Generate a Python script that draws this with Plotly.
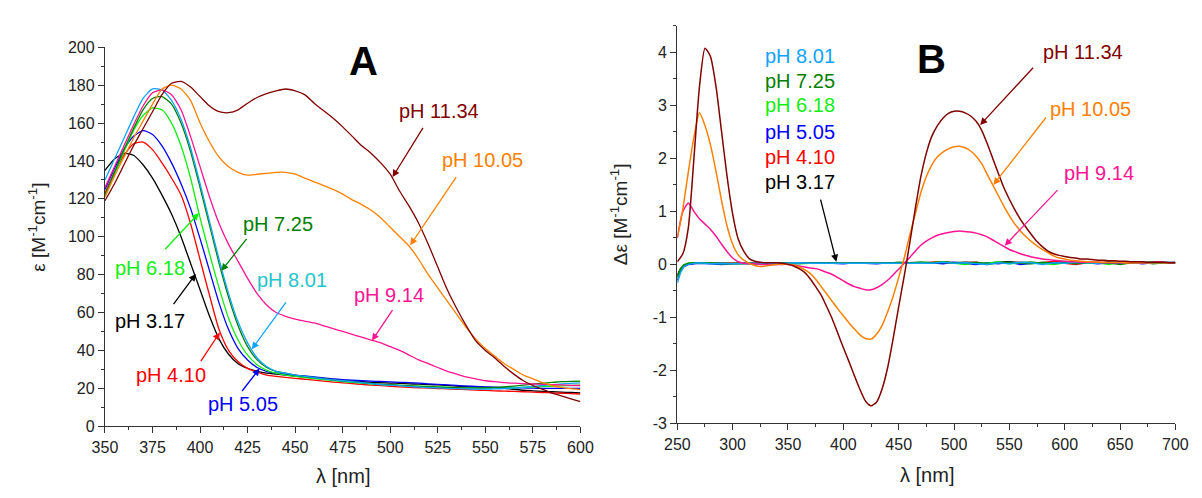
import plotly.graph_objects as go

# ---------------- Panel A : absorption spectra ----------------
LAM_A = list(range(350, 601, 5))

EPS_317 = [135, 141, 144, 143, 138, 131, 122, 112, 100, 86,
           72, 58, 46, 38, 33, 30.5, 29, 28, 27.5, 27,
           26.5, 26, 25.5, 25, 24.5, 24, 23.8, 23.5, 23.2, 23,
           22.8, 22.6, 22.4, 22.2, 22, 21.8, 21.5, 21.2, 21, 20.8,
           20.5, 20.3, 20, 19.5, 19, 18.7, 18.4, 18.2, 18, 17.8,
           17.6]
EPS_410 = [123, 134, 143, 149, 150, 146, 139, 131, 122, 107,
           88, 69, 51, 40, 34, 30.5, 28.5, 27, 26.3, 25.8,
           25.3, 24.8, 24.3, 23.8, 23.3, 22.9, 22.5, 22.1, 21.7, 21.4,
           21.1, 20.8, 20.5, 20.3, 20.1, 19.9, 19.7, 19.5, 19.3, 19.1,
           18.9, 18.7, 18.5, 18.4, 18.2, 18, 17.8, 17.6, 17.4, 17.2,
           17]
EPS_505 = [125, 136, 146, 153, 156, 154, 148, 139, 128, 115,
           99, 82, 65, 51, 41, 35, 31, 29, 28, 27.5,
           27, 26.5, 26, 25.5, 25, 24.6, 24.3, 24, 23.8, 23.6,
           23.4, 23.2, 23, 22.7, 22.4, 22.1, 21.8, 21.5, 21.2, 21,
           20.8, 20.6, 20.4, 20.3, 20.2, 20.1, 20, 20, 20, 20,
           20]
EPS_618 = [121, 133, 145, 156, 164, 168, 167, 160, 148, 131,
           110, 91, 73, 57, 45.5, 37.5, 32.5, 29.5, 28, 27,
           26.3, 25.7, 25.1, 24.6, 24.1, 23.6, 23.1, 22.7, 22.3, 22,
           21.8, 21.6, 21.4, 21.2, 21, 20.8, 20.6, 20.4, 20.2, 20.1,
           20, 20, 20.1, 20.3, 20.5, 20.7, 20.9, 21.1, 21.3, 21.5,
           21.7]
EPS_725 = [122, 134, 146, 157, 167, 173, 174, 170, 160, 145,
           126, 106, 86, 68, 53, 42, 35, 31, 29, 28,
           27, 26.3, 25.7, 25.1, 24.5, 24, 23.5, 23, 22.6, 22.2,
           21.9, 21.6, 21.3, 21, 20.8, 20.6, 20.4, 20.3, 20.2, 20.2,
           20.3, 20.5, 20.8, 21.2, 21.7, 22.2, 22.7, 23.1, 23.5, 23.7,
           23.8]
EPS_801 = [130, 141, 152, 163, 173, 178, 177.5, 172, 162, 147,
           128, 108, 88, 70, 55, 44, 36, 31.5, 29, 28,
           27, 26.3, 25.7, 25, 24.5, 24, 23.5, 23, 22.5, 22,
           21.7, 21.4, 21, 20.7, 20.4, 20.2, 20, 19.8, 19.7, 19.6,
           19.6, 19.7, 19.9, 20.2, 20.6, 21, 21.5, 22, 22.3, 22.6,
           22.9]
EPS_914 = [126, 137, 148, 159, 169, 176, 177.5, 175, 167, 153,
           137, 121, 107, 96, 87, 78, 70, 64, 60, 58,
           56.5, 55.5, 54.5, 53, 51.5, 50, 48.5, 47, 45.5, 44,
           42, 40, 37.5, 35, 33, 31, 29, 27.5, 26, 25,
           24, 23.5, 23, 22.7, 22.5, 22.3, 22.1, 22, 21.8, 21.6,
           21.5]
EPS_1005 = [121, 132, 142, 152, 161, 170, 178, 180, 178, 172,
            160, 150, 142, 137, 134, 132.5, 133, 133.5, 134, 134,
            133, 131, 129, 127, 125, 122.5, 119.5, 117, 114, 110,
            105, 100, 95, 88, 80, 73, 66, 59, 52, 46,
            41, 37, 33, 30, 27, 25, 23, 21.5, 20.5, 19.8,
            19.3]
EPS_1134 = [119, 128, 138, 148, 157, 166, 175, 181, 182, 179,
            174, 169, 166, 165.5, 167, 170.5, 173.5, 175.5, 177, 178,
            177, 175, 170.5, 166.5, 162.5, 158, 153, 148, 144, 139,
            133, 124, 116, 107, 96, 84, 72, 62, 53, 45,
            40, 36, 31.5, 27.5, 24, 21.5, 19.5, 17.5, 16, 14.5,
            13]

# ---------------- Panel B : CD difference spectra ----------------
LAM_B = list(range(250, 701, 5))
DEPS_914 = [0.5, 1.0, 1.16, 1.0, 0.86, 0.76, 0.66, 0.53, 0.38, 0.24,
            0.12, 0.05, 0.02, 0.01, 0.01, 0.0, 0.0, 0.0, 0.0, 0.0,
            0.0, -0.01, -0.03, -0.05, -0.07, -0.08, -0.11, -0.15, -0.19, -0.25,
            -0.31, -0.37, -0.42, -0.45, -0.48, -0.48, -0.44, -0.38, -0.3, -0.2,
            -0.09, 0.02, 0.13, 0.25, 0.36, 0.44, 0.5, 0.55, 0.58, 0.6,
            0.62, 0.63, 0.62, 0.61, 0.59, 0.56, 0.52, 0.46, 0.4, 0.34,
            0.28, 0.24, 0.2, 0.17, 0.14, 0.12, 0.1, 0.09, 0.08, 0.07,
            0.06, 0.05, 0.05, 0.04, 0.04, 0.04, 0.04, 0.03, 0.03, 0.03,
            0.03, 0.03, 0.03, 0.03, 0.03, 0.03, 0.04, 0.05, 0.03, 0.03,
            0.03]
DEPS_1005 = [0.5, 1.05, 1.75, 2.4, 2.86, 2.62, 2.25, 1.75, 1.2, 0.72,
             0.38, 0.18, 0.08, 0.02, -0.02, -0.04, -0.03, -0.01, 0.0, 0.0,
             0.0, -0.01, -0.05, -0.1, -0.17, -0.28, -0.42, -0.56, -0.7, -0.84,
             -0.97, -1.1, -1.22, -1.33, -1.4, -1.41, -1.32, -1.15, -0.9, -0.6,
             -0.25, 0.12, 0.55, 0.95, 1.35, 1.66, 1.88, 2.03, 2.12, 2.18,
             2.22, 2.23, 2.2, 2.14, 2.04, 1.9, 1.7, 1.5, 1.3, 1.1,
             0.92, 0.76, 0.63, 0.52, 0.43, 0.35, 0.28, 0.22, 0.16, 0.12,
             0.1, 0.08, 0.07, 0.06, 0.05, 0.05, 0.04, 0.04, 0.04, 0.04,
             0.04, 0.03, 0.03, 0.03, 0.03, 0.03, 0.03, 0.03, 0.03, 0.03,
             0.03]
DEPS_1134 = [0.05, 0.2, 0.7, 2.0, 3.35, 4.08, 3.92, 3.35, 2.5, 1.65,
             0.95, 0.48, 0.25, 0.11, 0.06, 0.04, 0.03, 0.03, 0.03, 0.02,
             0.0, -0.03, -0.08, -0.15, -0.27, -0.42, -0.58, -0.8, -1.03, -1.3,
             -1.57, -1.83, -2.1, -2.36, -2.58, -2.67, -2.6, -2.35, -1.95, -1.4,
             -0.8, -0.22, 0.4, 1.05, 1.65, 2.1, 2.42, 2.62, 2.76, 2.85,
             2.89, 2.89, 2.86, 2.8, 2.7, 2.53, 2.28, 2.0, 1.72, 1.45,
             1.23, 1.03, 0.85, 0.7, 0.56, 0.43, 0.33, 0.25, 0.2, 0.17,
             0.15, 0.13, 0.12, 0.1, 0.1, 0.09, 0.08, 0.08, 0.07, 0.07,
             0.06, 0.06, 0.05, 0.05, 0.05, 0.04, 0.04, 0.04, 0.04, 0.03,
             0.03]

LAM_B_LOW = [250, 253, 256, 260, 265] + list(range(270, 701, 10))
DEPS_317 = [-0.2, -0.08, -0.02, 0.01, 0.02, 0.03, 0.02, 0.02, 0.03, 0.02, 0.02, 0.03, 0.02, 0.02,
            0.03, 0.03, 0.02, 0.03, 0.03, 0.02, 0.03, 0.03, 0.02, 0.03, 0.03, 0.04, 0.03, 0.05,
            0.03, 0.04, 0.03, 0.02, 0.04, 0.05, 0.03, 0.04, 0.02, 0.03, 0.05, 0.03, 0.04,
            0.02, 0.05, 0.03, 0.04, 0.02, 0.05, 0.03, 0.04]
DEPS_410 = [-0.22, -0.1, -0.03, 0.0, 0.02, 0.02, 0.01, 0.02, 0.02, 0.01, 0.02, 0.02, 0.03, 0.02,
            0.02, 0.03, 0.02, 0.02, 0.03, 0.02, 0.02, 0.03, 0.02, 0.02, 0.03, 0.02, 0.04, 0.05,
            0.02, 0.03, 0.04, 0.01, 0.03, 0.02, 0.04, 0.02, 0.03, 0.06, 0.02, 0.0, 0.03,
            0.04, 0.02, 0.03, 0.05, 0.02, 0.03, 0.04, 0.02]
DEPS_505 = [-0.3, -0.12, -0.04, 0.0, 0.01, 0.02, 0.01, 0.0, 0.01, 0.02, 0.01, 0.02, 0.02, 0.01,
            0.02, 0.02, 0.03, 0.02, 0.01, 0.03, 0.02, 0.01, 0.03, 0.02, 0.03, 0.02, 0.03, 0.01,
            0.04, 0.02, 0.0, 0.03, 0.01, 0.04, 0.0, 0.02, 0.03, 0.01, 0.04, 0.02, 0.03,
            0.01, 0.03, 0.02, 0.04, 0.01, 0.03, 0.02, 0.03]
DEPS_618 = [-0.25, -0.09, -0.01, 0.02, 0.03, 0.03, 0.02, 0.01, 0.02, 0.02, 0.01, 0.02, 0.02, 0.02,
            0.01, 0.02, 0.02, 0.03, 0.02, 0.02, 0.03, 0.02, 0.03, 0.02, 0.02, 0.04, 0.03, 0.05,
            0.02, 0.0, 0.03, 0.02, 0.05, 0.01, 0.03, 0.04, 0.02, 0.0, 0.03, 0.05, 0.02,
            0.03, 0.0, 0.04, 0.02, 0.03, 0.05, 0.02, 0.03]
DEPS_725 = [-0.24, -0.08, -0.01, 0.02, 0.03, 0.03, 0.02, 0.02, 0.01, 0.02, 0.02, 0.01, 0.02, 0.03,
            0.02, 0.02, 0.03, 0.02, 0.03, 0.02, 0.03, 0.03, 0.02, 0.04, 0.03, 0.02, 0.03, 0.04,
            0.03, 0.02, 0.04, 0.0, 0.03, 0.04, 0.02, 0.01, 0.04, 0.02, 0.03, 0.01, 0.04,
            0.02, 0.03, 0.0, 0.03, 0.04, 0.01, 0.03, 0.02]
DEPS_801 = [-0.35, -0.15, -0.04, 0.0, 0.02, 0.03, 0.01, 0.02, 0.01, 0.02, 0.02, 0.01, 0.02, 0.02,
            0.03, 0.02, 0.02, 0.03, 0.02, 0.02, 0.03, 0.02, 0.03, 0.02, 0.03, 0.03, 0.02, 0.04,
            0.02, 0.03, 0.01, 0.0, 0.03, 0.01, 0.04, 0.03, 0.0, 0.03, 0.02, 0.04, 0.03,
            0.02, 0.04, 0.03, 0.05, 0.04, 0.03, 0.04, 0.03]

C_1134, C_1005, C_914 = "#800000", "#FF8000", "#FF1493"
C_801, C_725, C_618 = "#0FA3FF", "#008000", "#11EE11"
C_505, C_410, C_317 = "#0000FF", "#FF0000", "#000000"
C_801_LABEL_A = "#22C4CC"

FONT = "Liberation Sans, Arial, sans-serif"

fig = go.Figure()

seriesA = [(EPS_317, C_317), (EPS_410, C_410), (EPS_505, C_505), (EPS_618, C_618),
           (EPS_725, C_725), (EPS_801, C_801), (EPS_914, C_914), (EPS_1005, C_1005),
           (EPS_1134, C_1134)]
for ys, c in seriesA:
    fig.add_trace(go.Scatter(x=LAM_A, y=ys, mode="lines", xaxis="x", yaxis="y",
                             line=dict(color=c, width=1.3, shape="spline", smoothing=0.6),
                             showlegend=False, hoverinfo="skip"))

seriesB_low = [(DEPS_317, C_317), (DEPS_410, C_410), (DEPS_505, C_505), (DEPS_618, C_618),
               (DEPS_725, C_725), (DEPS_801, C_801)]
for ys, c in seriesB_low:
    fig.add_trace(go.Scatter(x=LAM_B_LOW, y=ys, mode="lines", xaxis="x2", yaxis="y2",
                             line=dict(color=c, width=1.5),
                             showlegend=False, hoverinfo="skip"))
for ys, c in [(DEPS_914, C_914), (DEPS_1005, C_1005), (DEPS_1134, C_1134)]:
    fig.add_trace(go.Scatter(x=LAM_B, y=ys, mode="lines", xaxis="x2", yaxis="y2",
                             line=dict(color=c, width=1.5, shape="spline", smoothing=0.6),
                             showlegend=False, hoverinfo="skip"))

axis_common = dict(showline=True, linecolor="#333", linewidth=1.3, ticks="outside",
                   ticklen=6, tickwidth=1.2, tickcolor="#333", showgrid=False, zeroline=False,
                   tickfont=dict(family=FONT, size=16, color="#222"), fixedrange=True)

fig.update_layout(
    width=1202, height=498, margin=dict(l=0, r=0, t=0, b=0),
    paper_bgcolor="white", plot_bgcolor="white",
    xaxis=dict(domain=[0.0782, 0.4825], range=[350, 600], anchor="y", tick0=350, dtick=25,
               minor=dict(ticks="outside", ticklen=3, tickcolor="#333", dtick=12.5, tick0=350),
               **axis_common),
    yaxis=dict(domain=[0.1305, 0.9183], range=[0, 200], anchor="x", tick0=0, dtick=20,
               minor=dict(ticks="outside", ticklen=3, tickcolor="#333", dtick=10, tick0=0),
               **axis_common),
    xaxis2=dict(domain=[0.5649, 0.9884], range=[250, 700], anchor="y2", tick0=250, dtick=50,
                minor=dict(ticks="outside", ticklen=3, tickcolor="#333", dtick=25, tick0=250),
                **axis_common),
    yaxis2=dict(domain=[0.1365, 0.9627], range=[-3, 4.5], anchor="x2",
                tickvals=[-3, -2, -1, 0, 1, 2, 3, 4],
                ticktext=["-3", "-2", "-1", "0", "1", "2", "3", "4"],
                minor=dict(ticks="outside", ticklen=3, tickcolor="#333", dtick=0.5, tick0=0),
                **axis_common),
)

ann = []
LBL = 20


def text_ann(text, x, y, xr, yr, size, color, angle=0, xanchor="center"):
    ann.append(dict(text=text, x=x, y=y, xref=xr, yref=yr, showarrow=False,
                    xanchor=xanchor, yanchor="middle", textangle=angle,
                    font=dict(family=FONT, size=size, color=color)))


# panel letters
text_ann("<b>A</b>", 358.5 / 1202, 1 - 55 / 498, "paper", "paper", 40, "black")
text_ann("<b>B</b>", 939 / 1202, 1 - 53 / 498, "paper", "paper", 40, "black")
# axis titles
text_ann("λ [nm]", 337 / 1202, 1 - 485 / 498, "paper", "paper", 20, "#222")
text_ann("λ [nm]", 934 / 1202, 1 - 484 / 498, "paper", "paper", 20, "#222")
text_ann("ε [M<sup>-1</sup>cm<sup>-1</sup>]", 25 / 1202, 1 - 227 / 498, "paper", "paper",
         19, "#222", angle=-90)
text_ann("Δε [M<sup>-1</sup>cm<sup>-1</sup>]", 619 / 1202, 1 - 214 / 498, "paper", "paper",
         19, "#222", angle=-90)


def arrow(tail, tip, color, xr, yr):
    ann.append(dict(text="", x=tip[0], y=tip[1], ax=tail[0], ay=tail[1], xref=xr, yref=yr,
                    axref=xr, ayref=yr, showarrow=True, arrowhead=2, arrowsize=1.1,
                    arrowwidth=1.3, arrowcolor=color))


# Panel A labels (data coordinates of panel A)
labelsA = [
    ("pH 11.34", (525.4, 166.4), (517.7, 158.3), (501.2, 131.5), C_1134, C_1134),
    ("pH 10.05", (548.3, 140.7), (535.2, 132.3), (510.5, 95.5), C_1005, C_1005),
    ("pH 9.14", (499.2, 69.5), (501.7, 62.1), (490.4, 45.2), C_914, C_914),
    ("pH 8.01", (448.3, 77.1), (445.7, 66.2), (427.2, 40.6), C_801_LABEL_A, C_801),
    ("pH 7.25", (440.8, 106.6), (425.1, 99.7), (411.2, 82.0), C_725, C_725),
    ("pH 6.18", (373.7, 83.7), (380.9, 92.6), (399.4, 112.5), C_618, C_618),
    ("pH 3.17", (373.7, 55.7), (385.5, 63.6), (397.8, 80.4), C_317, C_317),
    ("pH 4.10", (384.5, 27.0), (399.9, 33.6), (410.4, 49.5), C_410, C_410),
    ("pH 5.05", (422.5, 11.7), (421.5, 17.8), (431.3, 30.5), C_505, C_505),
]
for t, pos, tail, tip, tc, ac in labelsA:
    text_ann(t, pos[0], pos[1], "x", "y", LBL, tc)
    arrow(tail, tip, ac, "x", "y")

# Panel B stacked labels
stackB = [("pH 8.01", 3.94, C_801), ("pH 7.25", 3.47, C_725), ("pH 6.18", 3.0, C_618),
          ("pH 5.05", 2.5, C_505), ("pH 4.10", 2.03, C_410), ("pH 3.17", 1.56, C_317)]
for t, yv, c in stackB:
    text_ann(t, 327.4, yv, "x2", "y2", LBL, c, xanchor="left")
arrow((379.1, 1.25), (393.7, 0.05), C_317, "x2", "y2")

labelsB = [
    ("pH 11.34", (578.9, 4.0), (572.7, 3.74), (523.6, 2.63), C_1134),
    ("pH 10.05", (585.1, 2.94), (584.2, 2.8), (535.6, 1.5), C_1005),
    ("pH 9.14", (597.5, 1.72), (594.8, 1.43), (545.8, 0.35), C_914),
]
for t, pos, tail, tip, c in labelsB:
    text_ann(t, pos[0], pos[1], "x2", "y2", LBL, c, xanchor="left")
    arrow(tail, tip, c, "x2", "y2")

fig.update_layout(annotations=ann)
fig.write_html("out.html")
